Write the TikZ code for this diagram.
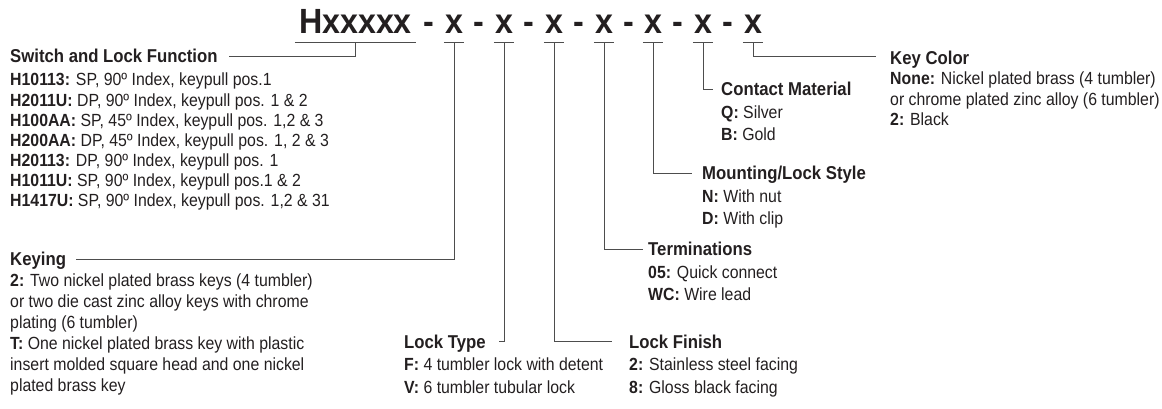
\documentclass[tikz,border=0pt]{standalone}
\usepackage{fontspec}
\setmainfont{Liberation Sans}
\newfontfamily\condf[FakeStretch=0.9]{Liberation Sans}
\newfontfamily\condt[FakeStretch=0.92]{Liberation Sans}
\definecolor{ink}{HTML}{231F20}
\definecolor{ln}{HTML}{4D4D4D}
\newcommand\bodyf{\condf\fontsize{17.6}{20}\selectfont}
\newcommand\headf{\condf\fontsize{18.6}{22}\selectfont\bfseries}
\newcommand\titlef{\condt\fontsize{35}{40}\selectfont\bfseries}
\begin{document}
\begin{tikzpicture}[x=1pt,y=-1pt,
  title/.style={anchor=base,inner sep=0pt,text depth=8.5pt,text height=26pt,font=\titlef,text=ink},
  tx/.style={title,minimum width=20pt},
  dsh/.style={anchor=base,inner sep=0pt,font=\titlef,text=ink},
  head/.style={anchor=base west,inner sep=0pt,text height=12.5pt,text depth=0pt,font=\headf,text=ink},
  body/.style={anchor=base west,inner sep=0pt,font=\bodyf,text=ink},
  conn/.style={draw=ln,line width=0.9pt},
  ul/.style={draw=ln,line width=1pt}]
\useasboundingbox (0,0) rectangle (1162,409);
% title
\node[title,minimum width=121pt] (H) at (355.5,33.5) {Hxxxxx};
\node[dsh] (d1) at (429,33.5) {-};
\node[tx] (x1) at (454,33.5) {x};
\node[dsh] (d2) at (479,33.5) {-};
\node[tx] (x2) at (504,33.5) {x};
\node[dsh] (d3) at (529,33.5) {-};
\node[tx] (x3) at (554,33.5) {x};
\node[dsh] (d4) at (579,33.5) {-};
\node[tx] (x4) at (604,33.5) {x};
\node[dsh] (d5) at (628.5,33.5) {-};
\node[tx] (x5) at (653,33.5) {x};
\node[dsh] (d6) at (678,33.5) {-};
\node[tx] (x6) at (703,33.5) {x};
\node[dsh] (d7) at (728,33.5) {-};
\node[tx] (x7) at (753,33.5) {x};
\foreach \n in {H,x1,x2,x3,x4,x5,x6,x7}{\draw[ul] (\n.south west) -- (\n.south east);}
% Switch and Lock Function
\node[head] (s0) at (10,62.7) {Switch and Lock Function};
\node[body] (s1) at (10,86) {\textbf{H10113:} SP, 90º Index, keypull pos.1};
\node[body] (s2) at (10,106.2) {\textbf{H2011U:} DP, 90º Index, keypull pos. 1 \& 2};
\node[body] (s3) at (10,126.4) {\textbf{H100AA:} SP, 45º Index, keypull pos. 1,2 \& 3};
\node[body] (s4) at (10,146.5) {\textbf{H200AA:} DP, 45º Index, keypull pos. 1, 2 \& 3};
\node[body] (s5) at (10,166.6) {\textbf{H20113:} DP, 90º Index, keypull pos. 1};
\node[body] (s6) at (10,186.7) {\textbf{H1011U:} SP, 90º Index, keypull pos.1 \& 2};
\node[body] (s7) at (10,206.8) {\textbf{H1417U:} SP, 90º Index, keypull pos. 1,2 \& 31};
% Keying
\node[head] (k0) at (10,265.5) {Keying};
\node[body] (k1) at (10,286.5) {\textbf{2:} Two nickel plated brass keys (4 tumbler)};
\node[body] (k2) at (10,307.5) {or two die cast zinc alloy keys with chrome};
\node[body] (k3) at (10,328.5) {plating (6 tumbler)};
\node[body] (k4) at (10,349.5) {\textbf{T:} One nickel plated brass key with plastic};
\node[body] (k5) at (10,370.5) {insert molded square head and one nickel};
\node[body] (k6) at (10,391.5) {plated brass key};
% Lock Type
\node[head] (lt0) at (404,348) {Lock Type};
\node[body] (lt1) at (404,370.5) {\textbf{F:} 4 tumbler lock with detent};
\node[body] (lt2) at (404,393) {\textbf{V:} 6 tumbler tubular lock};
% Lock Finish
\node[head] (lf0) at (629,348) {Lock Finish};
\node[body] (lf1) at (629,370.5) {\textbf{2:} Stainless steel facing};
\node[body] (lf2) at (629,393) {\textbf{8:} Gloss black facing};
% Terminations
\node[head] (t0) at (648,255.5) {Terminations};
\node[body] (t1) at (648,278) {\textbf{05:} Quick connect};
\node[body] (t2) at (648,300.5) {\textbf{WC:} Wire lead};
% Mounting
\node[head] (m0) at (702,179.5) {Mounting/Lock Style};
\node[body] (m1) at (702,202) {\textbf{N:} With nut};
\node[body] (m2) at (702,224.5) {\textbf{D:} With clip};
% Contact Material
\node[head] (c0) at (721,96) {Contact Material};
\node[body] (c1) at (721,118.5) {\textbf{Q:} Silver};
\node[body] (c2) at (721,141) {\textbf{B:} Gold};
% Key Color
\node[head] (kc0) at (890,64.5) {Key Color};
\node[body] (kc1) at (890,85) {\textbf{None:} Nickel plated brass (4 tumbler)};
\node[body] (kc2) at (890,105.5) {or chrome plated zinc alloy (6 tumbler)};
\node[body] (kc3) at (890,126) {\textbf{2:} Black};
% connectors
\draw[conn] (H.south) |- ([xshift=11pt]s0.east);
\draw[conn] (x1.south) |- ([xshift=10pt]k0.east);
\draw[conn] (x2.south) |- ([xshift=13pt]lt0.east);
\draw[conn] (x3.south) |- ([xshift=-17pt]lf0.west);
\draw[conn] (x4.south) |- ([xshift=-5pt]t0.west);
\draw[conn] (x5.south) |- ([xshift=-10pt]m0.west);
\draw[conn] (x6.south) |- ([xshift=-8pt]c0.west);
\draw[conn] (x7.south) |- ([xshift=-14pt,yshift=1.5pt]kc0.west);
\end{tikzpicture}
\end{document}
